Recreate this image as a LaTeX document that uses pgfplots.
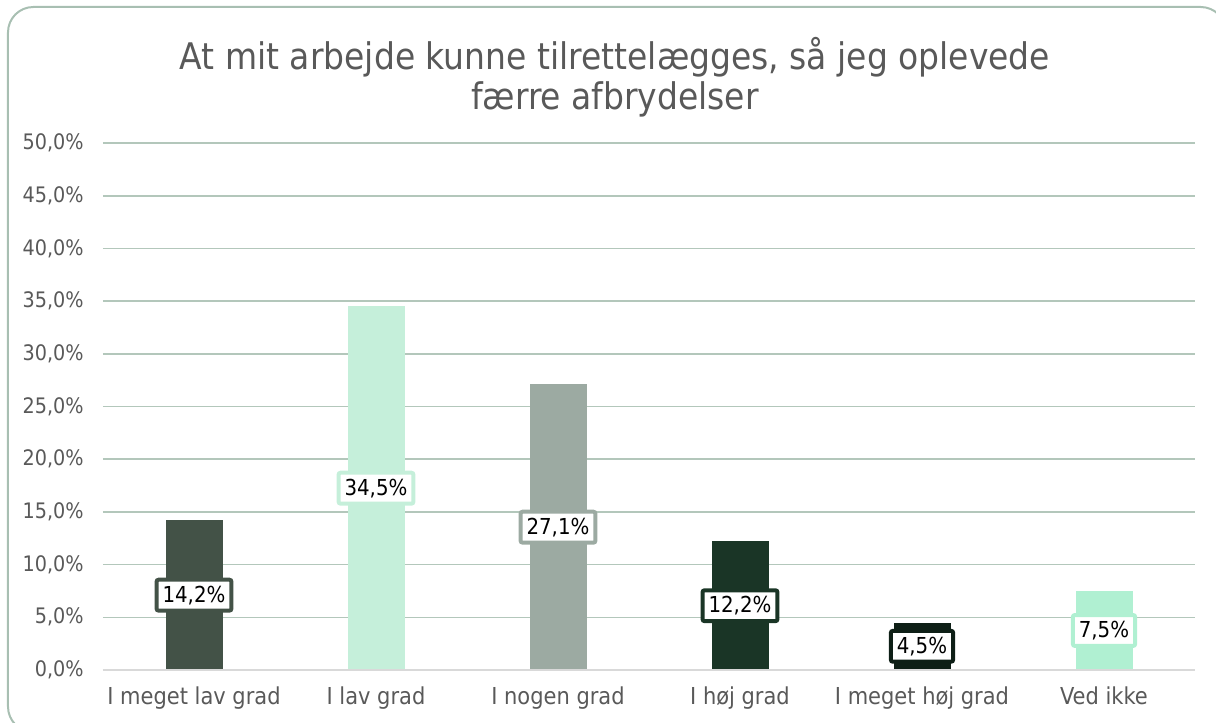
\documentclass[border=0pt]{standalone}
\usepackage{fontspec}
\setmainfont{DejaVu Sans Condensed}
\usepackage{pgfplots}
\pgfplotsset{compat=1.18}
\definecolor{c1}{RGB}{67,82,71}
\definecolor{c2}{RGB}{197,239,218}
\definecolor{c3}{RGB}{156,170,162}
\definecolor{c4}{RGB}{26,53,38}
\definecolor{c5}{RGB}{14,31,22}
\definecolor{c6}{RGB}{176,240,210}
\definecolor{gridc}{RGB}{179,199,187}
\definecolor{framec}{RGB}{168,191,178}
\definecolor{axisc}{RGB}{217,217,217}
\definecolor{textgray}{RGB}{89,89,89}

% one bar plus its boxed label at half height
\newcommand\mybar[3]{%
  \addplot[fill=#3, draw=none] coordinates {(#1,#2)};
  \addplot[fill=none, draw=none, y filter/.expression={y/2}, point meta=rawy,
    nodes near coords={\pgfmathprintnumber[fixed,fixed zerofill,precision=1,use comma]{\pgfplotspointmeta}\%},
    every node near coord/.append style={fill=white, draw=#3, line width=3pt,
      rounded corners=1.5pt, text=black, anchor=center,
      font=\fontsize{16.5}{19}\selectfont, inner xsep=4.5pt, inner ysep=4.5pt}]
    coordinates {(#1,#2)};
}

\begin{document}
\begin{tikzpicture}
\useasboundingbox (-77.25pt,-39pt) rectangle (834.75pt,502.5pt);
\begin{scope}
  \clip (-77.25pt,-39pt) rectangle (834.75pt,502.5pt);
  \draw[framec, line width=1.5pt, rounded corners=19pt]
    (-71.25pt,-46.5pt) rectangle (842.25pt,497.25pt);
\end{scope}
\begin{axis}[
  at={(0pt,0pt)}, anchor=south west,
  scale only axis, width=819pt, height=395.25pt,
  ybar, bar width=42.75pt, bar shift=0pt,
  xmin=-0.5, xmax=5.5, ymin=0, ymax=50,
  axis line style={draw=none},
  tick style={draw=none}, major tick length=0pt,
  ymajorgrids, grid style={gridc, line width=1.2pt},
  ytick={0,5,...,50},
  yticklabel={\pgfmathprintnumber[fixed,fixed zerofill,precision=1,use comma]{\tick}\%},
  /pgf/number format/assume math mode=true,
  xtick={0,...,5},
  xticklabels={I meget lav grad, I lav grad, I nogen grad, I høj grad, I meget høj grad, Ved ikke},
  ticklabel style={text=textgray},
  yticklabel style={font=\fontsize{16}{19}\selectfont, xshift=-11pt},
  xticklabel style={font=\fontsize{17.5}{20}\selectfont, yshift=-9pt},
  clip=false,
]
\mybar{0}{14.2}{c1}
\mybar{1}{34.5}{c2}
\mybar{2}{27.1}{c3}
\mybar{3}{12.2}{c4}
\mybar{4}{4.5}{c5}
\mybar{5}{7.5}{c6}
\draw[axisc, line width=1.2pt] (rel axis cs:0,0) -- (rel axis cs:1,0);
\end{axis}
\node[align=center, font=\fontsize{27.5}{30}\selectfont, text=textgray]
  at (384pt,444.75pt) {At mit arbejde kunne tilrettelægges, så jeg oplevede\\færre afbrydelser};
\end{tikzpicture}
\end{document}
